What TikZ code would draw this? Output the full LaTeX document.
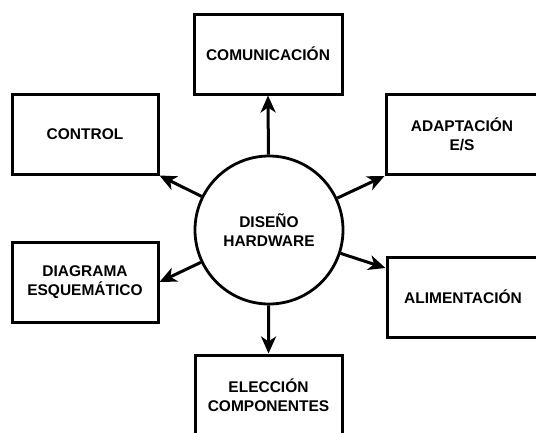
\documentclass[tikz,border=0pt]{standalone}
\usepackage{fontspec}
\setmainfont{Liberation Sans}
\usetikzlibrary{arrows.meta}
\begin{document}
\begin{tikzpicture}[x=1pt,y=-1pt,
  box/.style={draw, line width=3pt, minimum width=#1, minimum height=80pt, inner sep=0pt,
    align=center, font=\fontsize{15.5}{19.5}\selectfont\bfseries},
  box/.default=147pt,
  hub/.style={draw, circle, line width=2.8pt, minimum size=148pt, inner sep=0pt,
    align=center, font=\fontsize{15.5}{19.5}\selectfont\bfseries},
  conn/.style={line width=3pt, -{Stealth[length=17pt,width=15pt,inset=5pt]}}]
\useasboundingbox (0,0) rectangle (536,432);
\clip (0,0) rectangle (536,432);
\node[hub] (c) at (269,230) {DISEÑO\\HARDWARE};
\node[box=148pt] (com) at (268,54) {COMUNICACIÓN};
\node[box=146pt] (ctl) at (85,134) {CONTROL};
\node[box=152pt] (ada) at (462,134.5) {ADAPTACIÓN\\E/S};
\node[box=146pt] (dia) at (85,282) {DIAGRAMA\\ESQUEMÁTICO};
\node[box=152pt] (ali) at (463,297) {ALIMENTACIÓN};
\node[box=147pt] (ele) at (268.5,395) {ELECCIÓN\\COMPONENTES};
\draw[conn] (c) -- (com.south);
\draw[conn] (c) -- (ele.north);
\draw[conn] (c) -- (ctl.south east);
\draw[conn] (c) -- (ada.south west);
\draw[conn] (c) -- (dia.east);
\draw[conn] (c) -- (ali.west |- 0,268) coordinate (aliin);
\end{tikzpicture}
\end{document}
